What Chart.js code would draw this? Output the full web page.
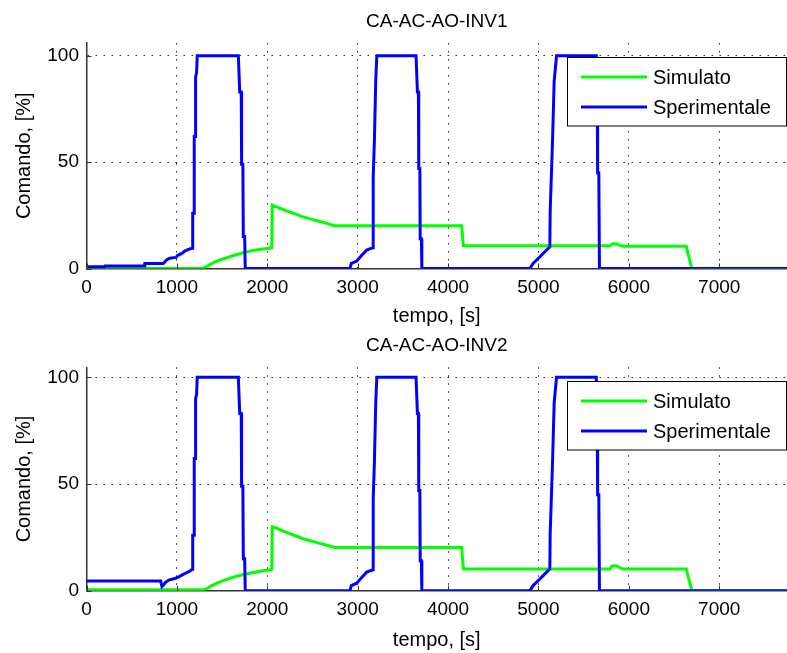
<!DOCTYPE html>
<html><head><meta charset="utf-8">
<script src="https://cdn.jsdelivr.net/npm/chart.js@4/dist/chart.umd.min.js"></script>
<style>
html,body{margin:0;padding:0;background:#fff;width:787px;height:653px;overflow:hidden;}
canvas{position:absolute;left:0;}
</style></head><body>
<canvas id="c1" width="787" height="330" style="top:0px"></canvas>
<canvas id="c2" width="787" height="330" style="top:324px"></canvas>
<script>
// ---- data ----
const titles = ['CA-AC-AO-INV1', 'CA-AC-AO-INV2'];
const seriesNames = ['Simulato', 'Sperimentale'];
const xTicks = [0, 1000, 2000, 3000, 4000, 5000, 6000, 7000];
const yTicks = [0, 50, 100];
const xLabel = 'tempo, [s]';
const yLabel = 'Comando, [%]';

const sim1T = [0,1280,1330,1390,1460,1537,1610,1684,1760,1832,1930,2034,2050,2055,2100,2145,2220,2292,2380,2476,2570,2660,2734,2750,4151,4160,4170,5790,5815,5860,5885,5936,6636,6654,6680,6691,6700,7750];
const sim1V = [0,0,1,2.4,3.8,4.8,5.9,6.8,7.7,8.4,9,9.6,9.8,29.8,29,28.3,27,25.9,24.5,23.3,22.2,21.2,20.2,20.1,20.1,15,10.7,10.7,11.5,11.6,11.1,10.5,10.5,7.1,3,0.8,0,0];

const exp1T = [0,200,205,640,645,850,885,920,990,1010,1060,1090,1150,1172,1175,1190,1192,1205,1207,1218,1225,1680,1695,1712,1716,1730,1735,1750,1756,2915,2930,2990,3040,3100,3170,3172,3185,3200,3212,3646,3661,3672,3676,3688,3692,3705,3710,4905,4941,4980,5016,5090,5126,5130,5156,5174,5200,5640,5650,5655,5668,5675,7750];
const exp1V = [0.8,0.8,1.2,1.2,2.3,2.3,4,4.8,5.2,6.2,7.2,8.3,9.3,9.5,26,26,62,62,90,92,100,100,83,83,49,49,15,15,0,0,2.4,3.5,6,8.7,9.8,43,60,88,100,100,83,83,47,47,14,14,0,0,2.4,4,5.5,8.7,10.2,27,60,88,100,100,83,45,45,0,0];

const sim2T = [0,1298,1340,1380,1463,1550,1647,1740,1832,1930,2034,2050,2055,2100,2145,2220,2292,2380,2476,2570,2660,2750,2790,4151,4160,4170,5790,5815,5860,5885,5936,6636,6654,6680,6691,6700,7750];
const sim2V = [0.5,0.5,1.2,2.3,3.9,5.3,6.6,7.6,8.4,9.2,9.8,10,30,29.4,28.5,27.2,26.1,24.6,23.4,22.3,21.3,20.3,20.3,20.3,15,10.2,10.2,11.6,11.7,11.1,10.2,10.2,7,3,0.8,0,0];

const exp2T = [0,820,835,850,870,911,985,1020,1059,1100,1133,1170,1175,1190,1192,1205,1207,1218,1225,1680,1695,1712,1716,1730,1735,1750,1756,2915,2930,2990,3040,3100,3170,3172,3185,3200,3212,3646,3661,3672,3676,3688,3692,3705,3710,4905,4941,4980,5016,5090,5126,5130,5156,5174,5200,5640,5650,5655,5668,5675,7750];
const exp2V = [4.5,4.5,1.9,2.5,3.8,5,5.8,6.5,7.4,8.3,8.9,10,26,26,62,62,90,92,100,100,83,83,49,49,15,15,0,0,2.4,3.5,6,8.7,9.8,43,60,88,100,100,83,83,47,47,14,14,0,0,2.4,4,5.5,8.7,10.2,27,60,88,100,100,83,45,45,0,0];

// ---- helpers ----
const FONT = '"Liberation Sans", Arial, Helvetica, sans-serif';
const pts = (t, v) => t.map((x, i) => ({x: x, y: v[i]}));

const extras = {
  id: 'matlabExtras',
  afterDatasetsDraw(chart) {
    const ctx = chart.ctx, a = chart.chartArea;
    const xs = chart.scales.x, ys = chart.scales.y;
    ctx.save();
    ctx.strokeStyle = '#333';
    ctx.lineWidth = 1;
    ctx.beginPath();
    xTicks.forEach(v => { const p = Math.round(xs.getPixelForValue(v)) + 0.5; ctx.moveTo(p, a.bottom); ctx.lineTo(p, a.bottom - 5); });
    yTicks.forEach(v => { const p = Math.round(ys.getPixelForValue(v)) + 0.5; ctx.moveTo(a.left, p); ctx.lineTo(a.left + 5, p); });
    ctx.stroke();
    // legend
    const bx = 567.5, by = 57.5, bw = 219, bh = 68.5;
    ctx.fillStyle = '#fff';
    ctx.fillRect(bx, by, bw, bh);
    ctx.strokeStyle = '#000';
    ctx.lineWidth = 1;
    ctx.strokeRect(bx, by, bw, bh);
    const rows = [77, 107];
    seriesNames.forEach((name, i) => {
      const ds = chart.data.datasets.find(d => d.label === name);
      ctx.strokeStyle = ds.borderColor;
      ctx.lineWidth = 3;
      ctx.beginPath();
      ctx.moveTo(581, rows[i]); ctx.lineTo(647, rows[i]);
      ctx.stroke();
      ctx.fillStyle = '#000';
      ctx.font = '20px ' + FONT;
      ctx.textBaseline = 'middle';
      ctx.textAlign = 'left';
      ctx.fillText(name, 653, rows[i] + 1);
    });
    ctx.restore();
  }
};

function makeChart(id, title, simT, simV, expT, expV, cfg) {
  const H = 330;
  return new Chart(document.getElementById(id), {
    type: 'line',
    data: {
      datasets: [
        {label: seriesNames[0], data: pts(simT, simV), borderColor: '#00ff00', borderWidth: 3, pointRadius: 0, tension: 0, fill: false, order: 2},
        {label: seriesNames[1], data: pts(expT, expV), borderColor: '#0000ff', borderWidth: 3, pointRadius: 0, tension: 0, fill: false, order: 1}
      ]
    },
    options: {
      responsive: false,
      animation: false,
      devicePixelRatio: 1,
      layout: {padding: 0},
      plugins: {
        legend: {display: false},
        tooltip: {enabled: false},
        title: {
          display: true, text: title, fullSize: false, color: '#000',
          font: {family: FONT, size: 19, weight: 'normal', lineHeight: 1.2},
          padding: {top: 10.6, bottom: cfg.areaTop - 10.6 - 22.8}
        }
      },
      scales: {
        x: {
          type: 'linear', min: 0, max: 7750,
          afterBuildTicks: s => { s.ticks = xTicks.map(v => ({value: v})); },
          afterFit: s => { s.height = H - cfg.areaBottom; },
          ticks: {color: '#000', padding: 7.5, font: {family: FONT, size: 19}, maxRotation: 0, autoSkip: false, callback: v => String(v)},
          grid: {drawTicks: false, color: c => (c.tick && c.tick.value === 0) ? 'rgba(0,0,0,0)' : '#222', lineWidth: 1},
          border: {display: true, color: '#333', width: 1.5, dash: [1.5, 6.5]},
          title: {display: true, text: xLabel, color: '#000', font: {family: FONT, size: 20, lineHeight: 1.2}, padding: {top: 0, bottom: 2}}
        },
        y: {
          type: 'linear', min: 0, max: cfg.yMax,
          afterBuildTicks: s => { s.ticks = yTicks.map(v => ({value: v})); },
          afterFit: s => { s.width = 86.5; },
          ticks: {color: '#000', padding: 7.5, font: {family: FONT, size: 19}, callback: v => String(v)},
          grid: {drawTicks: false, color: c => (c.tick && c.tick.value === 0) ? 'rgba(0,0,0,0)' : '#222', lineWidth: 1},
          border: {display: true, color: '#333', width: 1.5, dash: [1.5, 6.5]},
          title: {display: true, text: yLabel, color: '#000', font: {family: FONT, size: 20, lineHeight: 1.2}, padding: {top: 12, bottom: 0}}
        }
      }
    },
    plugins: [extras]
  });
}

makeChart('c1', titles[0], sim1T, sim1V, exp1T, exp1V, {areaTop: 43, areaBottom: 268.5, yMax: 106});
makeChart('c2', titles[1], sim2T, sim2V, exp2T, exp2V, {areaTop: 43.3, areaBottom: 266.7, yMax: 104.7});
</script>
</body></html>
